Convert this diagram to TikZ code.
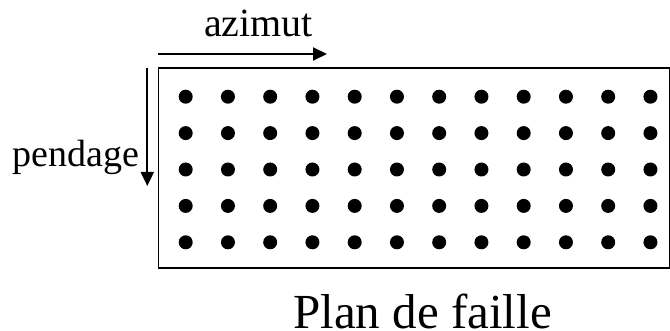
\documentclass[tikz,border=0pt]{standalone}
\usepackage{fontspec}
\setmainfont{Liberation Serif}
\usetikzlibrary{arrows.meta}
\begin{document}
\begin{tikzpicture}[x=1pt,y=-1pt,
  label/.style={inner sep=0pt,anchor=base west},
  dirarrow/.style={line width=2pt,-{Triangle[length=14pt,width=13pt]}},
  point/.style={circle,fill=black,inner sep=0pt,minimum size=14pt},
  frame/.style={draw,line width=1.6pt}]
  \useasboundingbox (0,0) rectangle (670,331);
  % fault plane
  \node[frame,minimum width=511pt,minimum height=200.5pt,anchor=north west,inner sep=0pt] (plane) at (157.5,67) {};
  % grid of sub-faults
  \foreach \i in {0,...,11}{
    \foreach \j in {0,...,4}{
      \node[point] (p-\i-\j) at ({185.7+42.25*\i},{96.7+36.4*\j}) {};
    }
  }
  % direction arrows
  \coordinate (azA) at (158,54);
  \coordinate (azB) at (327,54);
  \draw[dirarrow] (azA) -- (azB);
  \coordinate (pdA) at (147.3,68);
  \coordinate (pdB) at (147.3,186);
  \draw[dirarrow] (pdA) -- (pdB);
  % labels
  \node[label,font=\fontsize{40}{40}\selectfont] (az) at (204,37) {azimut};
  \node[label,font=\fontsize{38}{38}\selectfont] (pd) at (12.7,166.7) {pendage};
  \node[label,font=\fontsize{49}{49}\selectfont] (title) at (293,328.5) {Plan de faille};
\end{tikzpicture}
\end{document}
